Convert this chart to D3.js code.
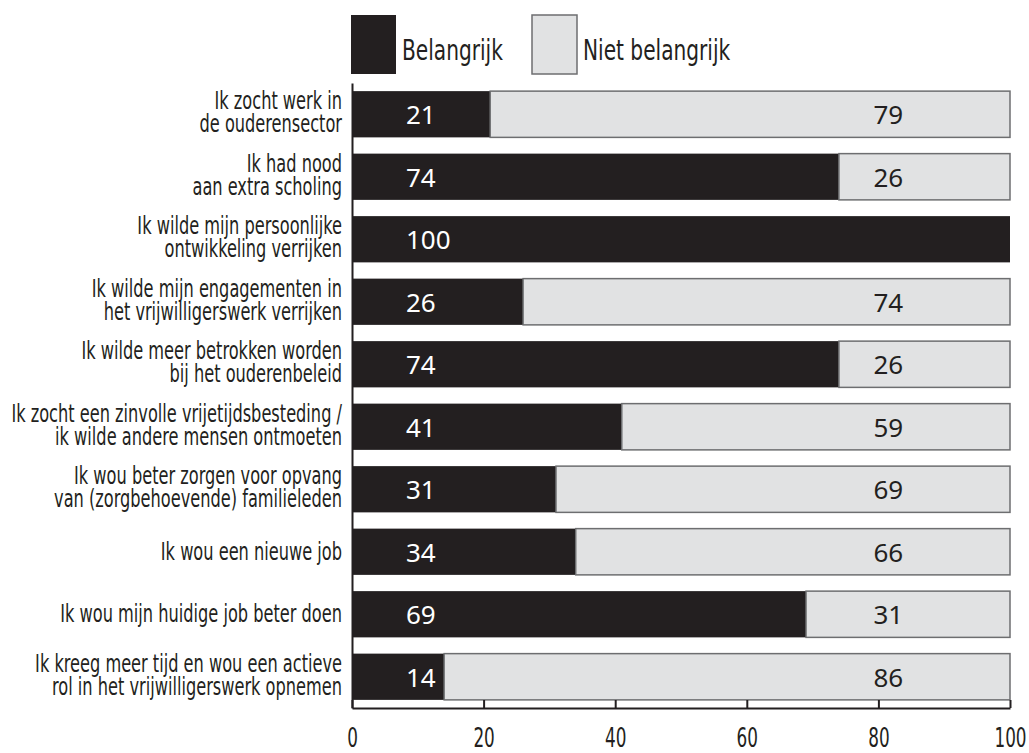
<!DOCTYPE html>
<html>
<head>
<meta charset="utf-8">
<script src="https://cdn.jsdelivr.net/npm/d3@7"></script>
<style>
  body { margin: 0; background: #fff; }
  svg { display: block; }
  .narrow { font-family: "Liberation Sans Narrow", "DejaVu Sans Condensed", sans-serif; }
</style>
</head>
<body>
<svg id="chart"></svg>
<script>
// chart data
const categories = [
  ["Ik zocht werk in", "de ouderensector"],
  ["Ik had nood", "aan extra scholing"],
  ["Ik wilde mijn persoonlijke", "ontwikkeling verrijken"],
  ["Ik wilde mijn engagementen in", "het vrijwilligerswerk verrijken"],
  ["Ik wilde meer betrokken worden", "bij het ouderenbeleid"],
  ["Ik zocht een zinvolle vrijetijdsbesteding /", "ik wilde andere mensen ontmoeten"],
  ["Ik wou beter zorgen voor opvang", "van (zorgbehoevende) familieleden"],
  ["Ik wou een nieuwe job"],
  ["Ik wou mijn huidige job beter doen"],
  ["Ik kreeg meer tijd en wou een actieve", "rol in het vrijwilligerswerk opnemen"]
];
const belangrijk = [21, 74, 100, 26, 74, 41, 31, 34, 69, 14];
const nietBelangrijk = [79, 26, 0, 74, 26, 59, 69, 66, 31, 86];
const seriesNames = ["Belangrijk", "Niet belangrijk"];
const xTicks = [0, 20, 40, 60, 80, 100];

// dimensions
const width = 1029, height = 753;
const marginLeft = 352, marginRight = 19, marginTop = 83, marginBottom = 45;
const dark = "#231f20", light = "#e1e2e3", edge = "#6d6e70";
// the original uses a condensed face, so squeeze the fallback font
const squeeze = 0.75;

const rows = categories.map((c, i) => ({
  idx: i,
  lines: c,
  "Belangrijk": belangrijk[i],
  "Niet belangrijk": nietBelangrijk[i]
}));

const x = d3.scaleLinear([0, 100], [marginLeft, width - marginRight]);
const y = d3.scaleBand(d3.range(categories.length), [marginTop, height - marginBottom])
  .paddingInner(0.26)
  .paddingOuter(0.13);

const svg = d3.select("#chart")
  .attr("width", width)
  .attr("height", height)
  .attr("viewBox", [0, 0, width, height]);

// stacked bars
const stacked = d3.stack().keys(seriesNames)(rows);
const fills = { "Belangrijk": dark, "Niet belangrijk": light };

svg.append("g")
  .selectAll("g")
  .data(stacked)
  .join("g")
    .attr("fill", d => fills[d.key])
    .attr("stroke", d => d.key === "Belangrijk" ? "none" : edge)
    .attr("stroke-width", 1.5)
  .selectAll("rect")
  .data(d => d.filter(p => p[1] - p[0] > 0))
  .join("rect")
    .attr("x", d => x(d[0]))
    .attr("y", d => y(d.data.idx))
    .attr("width", d => x(d[1]) - x(d[0]))
    .attr("height", y.bandwidth());

// value labels
const valueFont = 26;
svg.append("g")
  .attr("font-family", "'Noto Sans', 'Open Sans', sans-serif")
  .attr("font-size", valueFont)
  .selectAll("text")
  .data(rows)
  .join("text")
    .attr("x", x(0) + 54)
    .attr("y", d => y(d.idx) + y.bandwidth() / 2 + 10)
    .attr("fill", "#fff")
    .text(d => d["Belangrijk"]);

svg.append("g")
  .attr("font-family", "'Noto Sans', 'Open Sans', sans-serif")
  .attr("font-size", valueFont)
  .attr("text-anchor", "middle")
  .selectAll("text")
  .data(rows.filter(d => d["Niet belangrijk"] > 0))
  .join("text")
    .attr("x", x(81.5))
    .attr("y", d => y(d.idx) + y.bandwidth() / 2 + 10)
    .attr("fill", dark)
    .text(d => d["Niet belangrijk"]);

// left axis line
svg.append("g")
  .attr("transform", `translate(${marginLeft},0)`)
  .call(d3.axisLeft(y).tickSize(0).tickFormat(""))
  .call(g => g.select(".domain").attr("stroke", dark).attr("stroke-width", 2));

// category labels (multi-line, right aligned)
const labelFont = 24, lineGap = 23;
svg.append("g")
  .attr("class", "narrow")
  .attr("font-size", labelFont)
  .attr("text-anchor", "end")
  .attr("fill", dark)
  .selectAll("text")
  .data(rows)
  .join("text")
    .attr("transform", d => {
      const c = y(d.idx) + y.bandwidth() / 2;
      const base = d.lines.length > 1 ? c - 5 : c + 8;
      return `translate(342,${base}) scale(${squeeze},1)`;
    })
  .selectAll("tspan")
  .data(d => d.lines)
  .join("tspan")
    .attr("x", 0)
    .attr("y", (l, i) => i * lineGap)
    .text(l => l);

// bottom axis, ticks pointing up into the chart
svg.append("g")
  .attr("transform", `translate(0,${height - marginBottom})`)
  .call(d3.axisBottom(x).tickValues(xTicks).tickSizeInner(-8).tickSizeOuter(0).tickPadding(0))
  .call(g => g.select(".domain").attr("stroke", dark).attr("stroke-width", 2))
  .call(g => g.selectAll(".tick line").attr("stroke", dark).attr("stroke-width", 2))
  .call(g => g.selectAll(".tick text")
    .attr("font-size", 26)
    .attr("fill", dark)
    .attr("font-family", "'Liberation Sans Narrow', 'DejaVu Sans Condensed', sans-serif")
    .attr("dy", null)
    .attr("y", null)
    .attr("transform", `translate(0,39) scale(0.72,1)`));

// legend
const legend = svg.append("g")
  .selectAll("g")
  .data(seriesNames)
  .join("g")
    .attr("transform", (d, i) => `translate(${i === 0 ? 351 : 532},15)`);

legend.append("rect")
  .attr("width", 45)
  .attr("height", 59)
  .attr("fill", d => fills[d])
  .attr("stroke", d => d === "Belangrijk" ? "none" : edge)
  .attr("stroke-width", 1.5);

legend.append("text")
  .attr("class", "narrow")
  .attr("transform", "translate(51,45) scale(0.8,1)")
  .attr("font-size", 28)
  .attr("fill", dark)
  .text(d => d);
</script>
</body>
</html>
